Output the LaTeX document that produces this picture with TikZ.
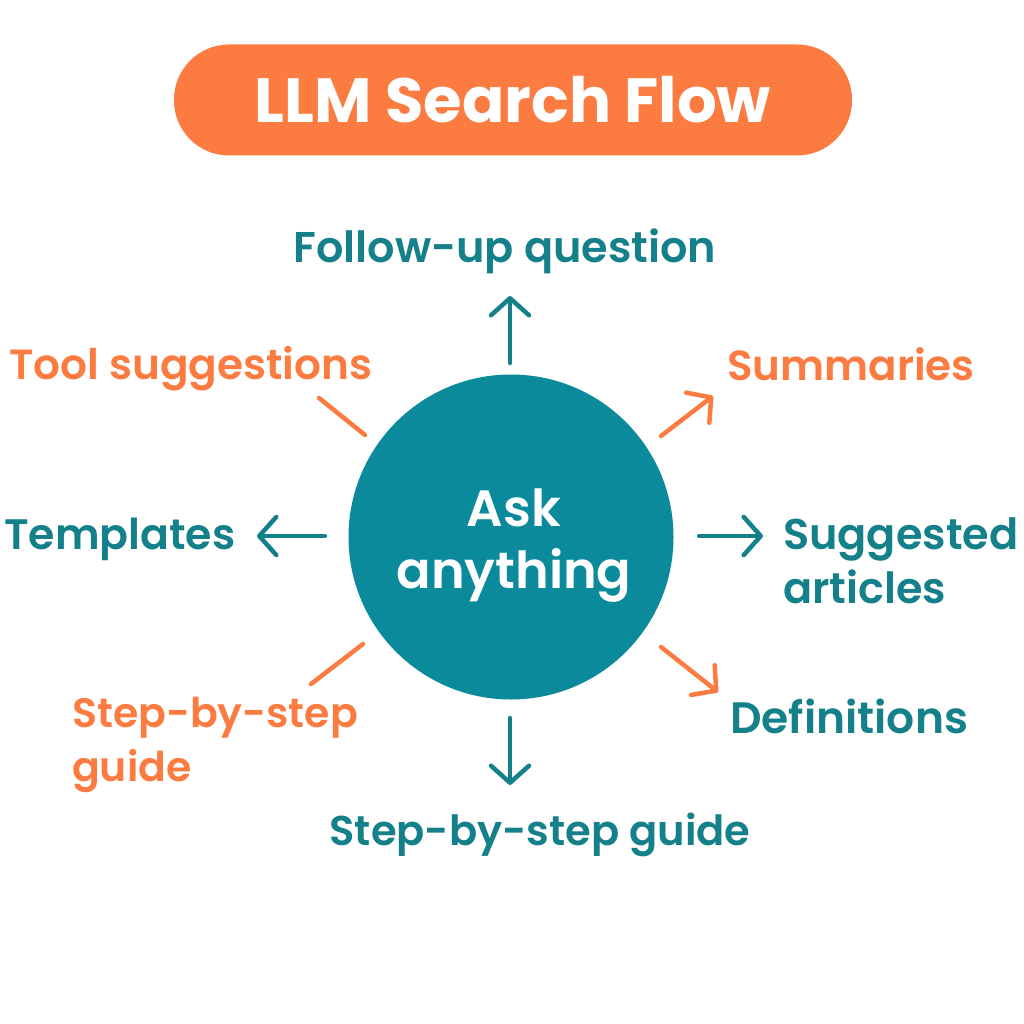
\documentclass[tikz,border=0pt]{standalone}
\usepackage{fontspec}
\setmainfont{Poppins}[BoldFont={Poppins SemiBold}]
\newfontfamily\heavyfont{Poppins Bold}
\usetikzlibrary{arrows.meta}
\definecolor{teal1}{HTML}{0A8A9A}
\definecolor{tealtxt}{HTML}{14808A}
\definecolor{orange1}{HTML}{FB7B40}
\tikzset{
 lab/.style={font=\bfseries\fontsize{43}{54}\selectfont,inner sep=0pt,align=left},
 fs/.style={font=\bfseries\fontsize{#1}{54}\selectfont},
 tl/.style={lab,text=tealtxt},
 ol/.style={lab,text=orange1},
 tarr/.style={draw=tealtxt,line width=4.5pt,line cap=round,-{Straight Barb[length=17pt,width=38pt,line width=4.5pt,round]}},
 oarr/.style={draw=orange1,line width=4.5pt,line cap=round,-{Straight Barb[length=17pt,width=38pt,line width=4.5pt,round]}},
 oline/.style={draw=orange1,line width=4.5pt,line cap=round},
}
\begin{document}
\begin{tikzpicture}[x=1pt,y=-1pt]
\useasboundingbox (0,0) rectangle (1024,1024);
\fill[white] (0,0) rectangle (1024,1024);
\node[fill=orange1,rounded corners=55pt,minimum width=678pt,minimum height=111pt,inner sep=0pt] (title) at (513,100) {};
\node[font=\heavyfont\fontsize{62.5}{66}\selectfont,text=white] (titletext) at (513,100) {LLM Search Flow};
\node[circle,fill=teal1,minimum size=325pt,inner sep=0pt] (hub) at (511,537) {};
\node[font=\bfseries\fontsize{51}{62}\selectfont,text=white,align=center,inner sep=0pt] (hubtext) at (514,546) {Ask\\anything};
\node[tl] (fu) at (505,251) {Follow-up question};
\node[ol,fs=42.2,anchor=west] (tool) at (9,369) {Tool suggestions};
\node[ol,fs=42,anchor=west] (sum) at (727,364) {Summaries};
\node[tl,fs=42.6,anchor=west] (tem) at (4,539) {Templates};
\node[tl,anchor=west] (sug) at (783,561) {Suggested\\articles};
\node[ol,fs=41,anchor=west] (sbs1) at (72,745) {Step-by-step\\guide};
\node[tl,fs=44,anchor=west] (def) at (730,716) {Definitions};
\node[tl,fs=41.6] (sbs2) at (540,835) {Step-by-step guide};
\coordinate (a1) at (510,363); \coordinate (a1e) at (510,296);
\coordinate (a2) at (661,436); \coordinate (a2e) at (713,396);
\coordinate (a3) at (699,536); \coordinate (a3e) at (763,536);
\coordinate (a4) at (661,647); \coordinate (a4e) at (718,692);
\coordinate (a5) at (510,718); \coordinate (a5e) at (510,785);
\coordinate (a6) at (325,536); \coordinate (a6e) at (257,536);
\coordinate (l1) at (319,398); \coordinate (l1e) at (365,435);
\coordinate (l2) at (311,684); \coordinate (l2e) at (363,644);
\draw[tarr] (a1) -- (a1e);
\draw[oarr] (a2) -- (a2e);
\draw[tarr] (a3) -- (a3e);
\draw[oarr] (a4) -- (a4e);
\draw[tarr] (a5) -- (a5e);
\draw[tarr] (a6) -- (a6e);
\draw[oline] (l1) -- (l1e);
\draw[oline] (l2) -- (l2e);
\end{tikzpicture}
\end{document}
